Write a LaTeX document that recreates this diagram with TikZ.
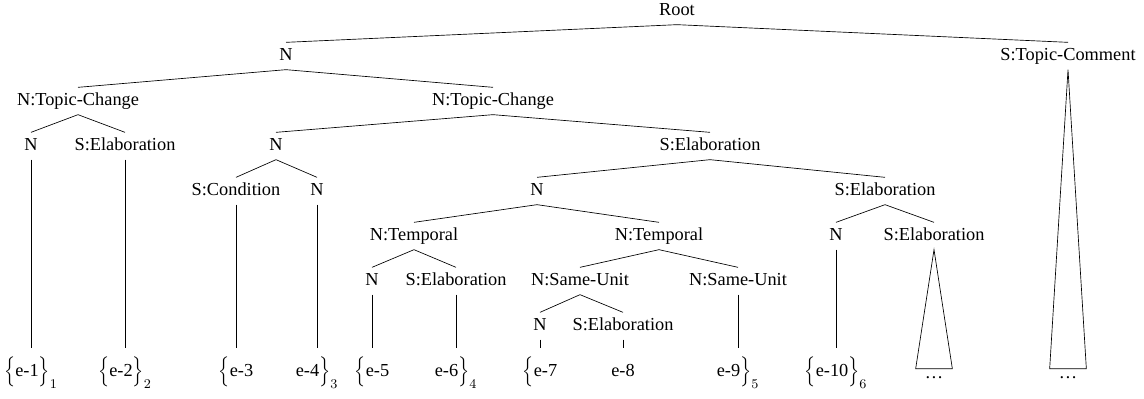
\documentclass[tikz,border=0pt]{standalone}
\usepackage{fontspec}
\setmainfont{Liberation Serif}
\begin{document}
\begin{tikzpicture}[x=0.6pt, y=-0.6pt]
      \tikzset{rel/.style={font=\fontsize{11pt}{13pt}\selectfont, inner xsep=1pt,
        inner ysep=3.5pt, text height=7pt, text depth=2pt}};
      \tikzset{edu/.style={rel, inner ysep=3pt, text height=14pt, text depth=7pt}};
      \tikzset{elide/.style={rel, anchor=base, inner sep=0pt, inner ysep=2.4pt,
        text height=3pt, text depth=0pt, minimum width=21.6pt}};
      \useasboundingbox (0,0) rectangle (1144,398);

      % relation nodes
      \node[rel] (root) at (677,11) {Root};
      \node[rel] (nTop) at (286,56) {N};
      \node[rel] (sTopic) at (1068,56) {S:Topic-Comment};
      \node[rel] (tcL) at (78,101) {N:Topic-Change};
      \node[rel] (tcR) at (493,101) {N:Topic-Change};
      \node[rel] (nA) at (31,146) {N};
      \node[rel] (elA) at (125,146) {S:Elaboration};
      \node[rel] (nB) at (276,146) {N};
      \node[rel] (elB) at (710,146) {S:Elaboration};
      \node[rel] (cond) at (236,191) {S:Condition};
      \node[rel] (nC) at (317,191) {N};
      \node[rel] (nD) at (537,191) {N};
      \node[rel] (elD) at (885,191) {S:Elaboration};
      \node[rel] (tmpL) at (414,236) {N:Temporal};
      \node[rel] (tmpR) at (659,236) {N:Temporal};
      \node[rel] (nE) at (836,236) {N};
      \node[rel] (elE) at (934,236) {S:Elaboration};
      \node[rel] (nF) at (372,281) {N};
      \node[rel] (elF) at (456,281) {S:Elaboration};
      \node[rel] (suL) at (580,281) {N:Same-Unit};
      \node[rel] (suR) at (738,281) {N:Same-Unit};
      \node[rel] (nG) at (540,326) {N};
      \node[rel] (elG) at (623,326) {S:Elaboration};

      % leaves
      \node[edu] (e1) at (31,371) {$\Big\{$e-1$\Big\}_1$};
      \node[edu] (e2) at (125,371) {$\Big\{$e-2$\Big\}_2$};
      \node[edu] (e3) at (236,371) {$\Big\{$e-3};
      \node[edu] (e4) at (317,371) {e-4$\Big\}_3$};
      \node[edu] (e5) at (372,371) {$\Big\{$e-5};
      \node[edu] (e6) at (456,371) {e-6$\Big\}_4$};
      \node[edu] (e7) at (540,371) {$\Big\{$e-7};
      \node[edu] (e8) at (623,371) {e-8};
      \node[edu] (e9) at (738,371) {e-9$\Big\}_5$};
      \node[edu] (e10) at (836,371) {$\Big\{$e-10$\Big\}_6$};
      \node[elide] (dotsA) at (934,378) {\dots};
      \node[elide] (dotsB) at (1068,378) {\dots};

      % edges
      \draw (root.south) -- (nTop.north) (root.south) -- (sTopic.north);
      \draw (nTop.south) -- (tcL.north) (nTop.south) -- (tcR.north);
      \draw (tcL.south) -- (nA.north) (tcL.south) -- (elA.north);
      \draw (tcR.south) -- (nB.north) (tcR.south) -- (elB.north);
      \draw (nB.south) -- (cond.north) (nB.south) -- (nC.north);
      \draw (elB.south) -- (nD.north) (elB.south) -- (elD.north);
      \draw (nD.south) -- (tmpL.north) (nD.south) -- (tmpR.north);
      \draw (elD.south) -- (nE.north) (elD.south) -- (elE.north);
      \draw (tmpL.south) -- (nF.north) (tmpL.south) -- (elF.north);
      \draw (tmpR.south) -- (suL.north) (tmpR.south) -- (suR.north);
      \draw (suL.south) -- (nG.north) (suL.south) -- (elG.north);

      % einzelne Kanten zu den Blaettern
      \draw (nA.south) -- (e1.north);
      \draw (elA.south) -- (e2.north);
      \draw (cond.south) -- (e3.north);
      \draw (nC.south) -- (e4.north);
      \draw (nF.south) -- (e5.north);
      \draw (elF.south) -- (e6.north);
      \draw (nG.south) -- (e7.north);
      \draw (elG.south) -- (e8.north);
      \draw (suR.south) -- (e9.north);
      \draw (nE.south) -- (e10.north);

      % Dreiecke
      \draw (elE.south) -- (dotsA.north west) -- (dotsA.north east) -- cycle;
      \draw (sTopic.south) -- (dotsB.north west) -- (dotsB.north east) -- cycle;
\end{tikzpicture}
\end{document}
